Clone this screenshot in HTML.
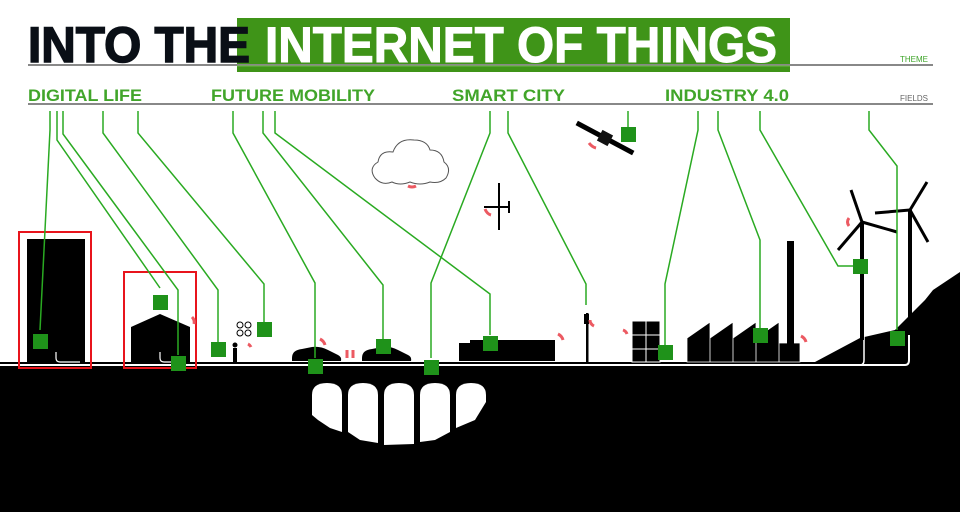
<!DOCTYPE html>
<html><head><meta charset="utf-8"><style>
html,body{margin:0;padding:0;background:#fff;}
svg{display:block}
</style></head><body>
<svg width="960" height="512" viewBox="0 0 960 512" xmlns="http://www.w3.org/2000/svg" font-family="Liberation Sans, sans-serif">
<!-- title -->
<rect x="237" y="18" width="553" height="54" fill="#3f9418"/>
<line x1="28" y1="65" x2="933" y2="65" stroke="#888" stroke-width="2"/>
<line x1="237" y1="66" x2="790" y2="66" stroke="#6fba4a" stroke-width="1"/>
<text x="28" y="62" font-size="50" font-weight="bold" fill="#0a0f16" stroke="#0a0f16" stroke-width="1.5" textLength="222" lengthAdjust="spacingAndGlyphs">INTO THE</text>
<text x="265" y="62" font-size="50" font-weight="bold" fill="#fff" stroke="#fff" stroke-width="1" textLength="512" lengthAdjust="spacingAndGlyphs">INTERNET OF THINGS</text>
<text x="900" y="62" font-size="8" fill="#3fa52a">THEME</text>
<!-- fields -->
<line x1="28" y1="104" x2="933" y2="104" stroke="#888" stroke-width="2"/>
<g font-size="17" font-weight="bold" fill="#41a52a">
<text x="28" y="101" textLength="114" lengthAdjust="spacingAndGlyphs">DIGITAL LIFE</text>
<text x="211" y="101" textLength="164" lengthAdjust="spacingAndGlyphs">FUTURE MOBILITY</text>
<text x="452" y="101" textLength="113" lengthAdjust="spacingAndGlyphs">SMART CITY</text>
<text x="665" y="101" textLength="124" lengthAdjust="spacingAndGlyphs">INDUSTRY 4.0</text>
</g>
<text x="900" y="101" font-size="8" fill="#666">FIELDS</text>

<!-- ground -->
<path d="M0 362 H815 L860 338 L895 330 L925 300 L933 290 L945 282 L960 272 V512 H0 Z" fill="#000"/>
<path d="M0 365 H905 Q909 365 909 360 V330" fill="none" stroke="#fff" stroke-width="2"/>
<path d="M860 365 Q864 365 864 360 V330" fill="none" stroke="#fff" stroke-width="1.5"/>
<!-- arches -->
<g fill="#fff">
<path d="M312 395 Q312 383 327 383 Q342 383 342 395 V432 L330 428 L318 420 L312 415 Z"/>
<path d="M348 395 Q348 383 363 383 Q378 383 378 395 V443 L360 440 L348 432 Z"/>
<path d="M384 395 Q384 383 399 383 Q414 383 414 395 V444 L384 445 Z"/>
<path d="M420 395 Q420 383 435 383 Q450 383 450 395 V432 L435 440 L420 442 Z"/>
<path d="M456 395 Q456 383 471 383 Q486 383 486 395 V402 L475 420 L456 428 Z"/>
</g>
<!-- buildings -->
<rect x="19" y="232" width="72" height="136" fill="none" stroke="#e8141c" stroke-width="2"/>
<rect x="27" y="239" width="58" height="124" fill="#000"/>
<path d="M56 352 v6 q0 4 4 4 h20" fill="none" stroke="#fff" stroke-width="1.2"/>
<rect x="124" y="272" width="72" height="96" fill="none" stroke="#e8141c" stroke-width="2"/>
<path d="M131 327 L160 314 L190 327 V363 H131 Z" fill="#000"/>
<path d="M160 352 v6 q0 4 4 4 h8" fill="none" stroke="#fff" stroke-width="1.2"/>
<!-- person + drone -->
<rect x="233" y="348" width="4" height="14" fill="#000"/><circle cx="235" cy="345" r="2.5" fill="#000"/>
<g fill="none" stroke="#000" stroke-width="1"><circle cx="240" cy="325" r="3"/><circle cx="248" cy="325" r="3"/><circle cx="240" cy="333" r="3"/><circle cx="248" cy="333" r="3"/></g>
<!-- cars -->
<path d="M292 358 Q292 350 302 349 L312 347 Q320 346 328 350 L338 355 Q342 357 341 361 H292 Z" fill="#000"/>
<path d="M362 358 Q362 350 372 349 L382 347 Q390 346 398 350 L408 355 Q412 357 411 361 H362 Z" fill="#000"/>
<!-- truck -->
<path d="M459 343 H470 V340 H555 V361 H459 Z" fill="#000"/>
<!-- cloud -->
<path d="M375 178 Q368 168 378 162 Q380 150 393 152 Q398 138 414 140 Q427 140 430 150 Q442 150 444 162 Q452 168 446 178 Q440 184 430 182 Q420 186 410 182 Q400 186 392 182 Q382 186 375 178 Z" fill="#fff" stroke="#555" stroke-width="1"/>
<!-- plane -->
<g stroke="#000" stroke-width="2"><line x1="499" y1="183" x2="499" y2="230"/><line x1="484" y1="207" x2="509" y2="207"/><line x1="509" y1="201" x2="509" y2="213"/></g>
<!-- satellite -->
<g transform="translate(605 138) rotate(28)"><rect x="-32" y="-2.5" width="64" height="5" fill="#000"/><rect x="-6" y="-6" width="12" height="12" fill="#111"/></g>
<!-- traffic light -->
<rect x="586" y="313" width="2.5" height="49" fill="#000"/><rect x="584" y="314" width="5" height="10" fill="#000"/>
<!-- solar -->
<g fill="#000" stroke="#fff" stroke-width="1"><rect x="632" y="321" width="14" height="14"/><rect x="646" y="321" width="14" height="14"/><rect x="632" y="335" width="14" height="14"/><rect x="646" y="335" width="14" height="14"/><rect x="632" y="349" width="14" height="13"/><rect x="646" y="349" width="14" height="13"/></g>
<!-- factory -->
<path d="M687 338 L710 322 V362 H687 Z M710 338 L733 322 V362 H710 Z M733 338 L756 322 V362 H733 Z M756 338 L779 322 V362 H756 Z M779 343 H800 V362 H779 Z" fill="#000" stroke="#fff" stroke-width="0.8"/>
<rect x="787" y="241" width="7" height="105" fill="#000"/>
<!-- turbines -->
<g fill="#000" stroke="#000">
<rect x="860" y="222" width="4" height="118" stroke="none"/>
<g stroke-width="3"><line x1="862" y1="222" x2="851" y2="190"/><line x1="862" y1="222" x2="897" y2="232"/><line x1="862" y1="222" x2="838" y2="250"/></g>
<rect x="908" y="210" width="4" height="125" stroke="none"/>
<g stroke-width="3"><line x1="910" y1="210" x2="927" y2="182"/><line x1="910" y1="210" x2="875" y2="213"/><line x1="910" y1="210" x2="928" y2="242"/></g>
</g>
<!-- red signals -->
<g fill="none" stroke="#ec5a62" stroke-width="3">
<path d="M192 317 q3 3 2 7"/><path d="M408 186 q4 2 8 0"/><path d="M485 209 q2 5 6 6"/><path d="M320 339 q4 2 5 6"/><path d="M347 350 v8 M353 350 v8"/><path d="M558 334 q4 2 5 6"/><path d="M590 320 q0 4 4 6"/><path d="M623 330 q3 1 4 4"/><path d="M801 336 q4 2 5 6"/><path d="M849 218 q-3 4 0 8"/><path d="M589 143 q3 4 7 5"/><path d="M248 344 q2 1 3 3"/>
</g>
<!-- connectors -->
<g fill="none" stroke="#2aaa22" stroke-width="1.5">
<polyline points="50,111 50,130 40,330"/>
<polyline points="57,111 57,140 160,288"/>
<polyline points="63,111 63,134 178,290 178,355"/>
<polyline points="103,111 103,133 218,290 218,342"/>
<polyline points="138,111 138,133 264,284 264,322"/>
<polyline points="233,111 233,133 315,283 315,358"/>
<polyline points="263,111 263,133 383,285 383,340"/>
<polyline points="275,111 275,133 490,294 490,335"/>
<polyline points="490,111 490,133 431,283 431,358"/>
<polyline points="508,111 508,133 586,284 586,305"/>
<polyline points="628,111 628,127"/>
<polyline points="698,111 698,130 665,284 665,345"/>
<polyline points="718,111 718,130 760,240 760,328"/>
<polyline points="760,111 760,130 838,266 853,266"/>
<polyline points="869,111 869,130 897,166 897,330"/>
</g>
<!-- boxes -->
<g fill="#1f921a">
<rect x="33" y="334" width="15" height="15"/>
<rect x="153" y="295" width="15" height="15"/>
<rect x="171" y="356" width="15" height="15"/>
<rect x="211" y="342" width="15" height="15"/>
<rect x="257" y="322" width="15" height="15"/>
<rect x="308" y="359" width="15" height="15"/>
<rect x="376" y="339" width="15" height="15"/>
<rect x="483" y="336" width="15" height="15"/>
<rect x="424" y="360" width="15" height="15"/>
<rect x="621" y="127" width="15" height="15"/>
<rect x="658" y="345" width="15" height="15"/>
<rect x="753" y="328" width="15" height="15"/>
<rect x="853" y="259" width="15" height="15"/>
<rect x="890" y="331" width="15" height="15"/>
</g>
</svg>
</body></html>
